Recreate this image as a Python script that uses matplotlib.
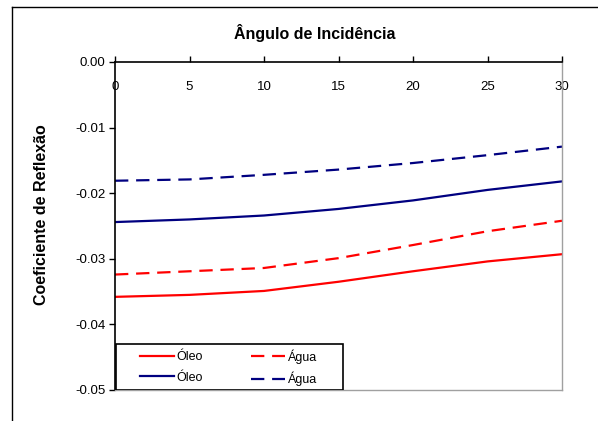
import matplotlib
matplotlib.use("Agg")
import matplotlib.pyplot as plt
from matplotlib.lines import Line2D
from matplotlib.patches import Rectangle

plt.rcParams['font.family'] = ['Liberation Sans', 'DejaVu Sans']
plt.rcParams['axes.unicode_minus'] = False

# Angle of incidence (degrees)
angulo = [0, 5, 10, 15, 20, 25, 30]

# Reflection coefficients
oleo_vermelho = [-0.0358, -0.0355, -0.0349, -0.0335, -0.0319, -0.0304, -0.0293]
agua_vermelho = [-0.0324, -0.0319, -0.0314, -0.0299, -0.0279, -0.0258, -0.0242]
oleo_azul = [-0.0244, -0.0240, -0.0234, -0.0224, -0.0211, -0.0195, -0.0182]
agua_azul = [-0.0181, -0.0179, -0.0172, -0.0164, -0.0154, -0.0142, -0.0129]

x_ticks = [0, 5, 10, 15, 20, 25, 30]
y_ticks = [0.00, -0.01, -0.02, -0.03, -0.04, -0.05]

W, H = 598, 421
fig = plt.figure(figsize=(W / 100, H / 100), dpi=100)
fig.patch.set_facecolor('white')

# outer chart-area frame (left and top edges)
fig.add_artist(Line2D([12 / W, 12 / W], [0, 1 - 7 / H], transform=fig.transFigure,
                      color='black', lw=1.0))
fig.add_artist(Line2D([12 / W, 1], [1 - 7 / H, 1 - 7 / H], transform=fig.transFigure,
                      color='black', lw=1.0))

left, right, top, bottom = 115, 562, 62, 390
aw, ah = right - left, bottom - top
ax = fig.add_axes([left / W, 1 - bottom / H, aw / W, ah / H])

red = '#FF0000'
navy = '#000080'
dash = (6, 3.5)
l1, = ax.plot(angulo, oleo_vermelho, color=red, lw=1.6, label='Óleo')
l2, = ax.plot(angulo, agua_vermelho, color=red, lw=1.6, ls=(0, dash), label='Água')
l3, = ax.plot(angulo, oleo_azul, color=navy, lw=1.6, label='Óleo')
l4, = ax.plot(angulo, agua_azul, color=navy, lw=1.6, ls=(0, dash), label='Água')

ax.set_xlim(0, 30)
ax.set_ylim(-0.05, 0.0)
ax.set_xticks(x_ticks)
ax.set_xticklabels([str(v) for v in x_ticks])
ax.set_yticks(y_ticks)
ax.set_yticklabels([f'{v:.2f}' for v in y_ticks])

# x axis sits at y = 0 (top edge) with labels hanging just below it
ax.tick_params(axis='x', top=True, bottom=False, labeltop=True, labelbottom=False,
               direction='out', length=4, width=1, pad=-26, labelsize=9.5,
               colors='black')
ax.tick_params(axis='y', direction='out', length=4, width=1, pad=3,
               labelsize=9.5, colors='black')

for s in ('left', 'top'):
    ax.spines[s].set_color('black')
    ax.spines[s].set_linewidth(1.2)
for s in ('right', 'bottom'):
    ax.spines[s].set_color('#a0a0a0')
    ax.spines[s].set_linewidth(1.0)

fig.text(315 / W, 1 - 33 / H, 'Ângulo de Incidência', ha='center', va='center',
         fontsize=11.5, fontweight='bold')
fig.text(42 / W, 1 - 215 / H, 'Coeficiente de Reflexão', ha='center', va='center',
         rotation=90, fontsize=11.5, fontweight='bold')

# legend box with generous side padding
box = Rectangle((1 / aw, 0), 227 / aw, 46 / ah, transform=ax.transAxes,
                facecolor='white', edgecolor='black', lw=1.2, zorder=4)
ax.add_patch(box)
leg = ax.legend(handles=[l1, l3, l2, l4], ncol=2, loc='upper left',
                bbox_to_anchor=((140 - left) / aw, (bottom - 349) / ah),
                fontsize=9, frameon=False, handlelength=2.7, handletextpad=0.2,
                columnspacing=3.9, borderpad=0.0, labelspacing=0.65,
                borderaxespad=0.0)
leg.set_zorder(5)

fig.savefig('out.png', dpi=100, facecolor='white')
